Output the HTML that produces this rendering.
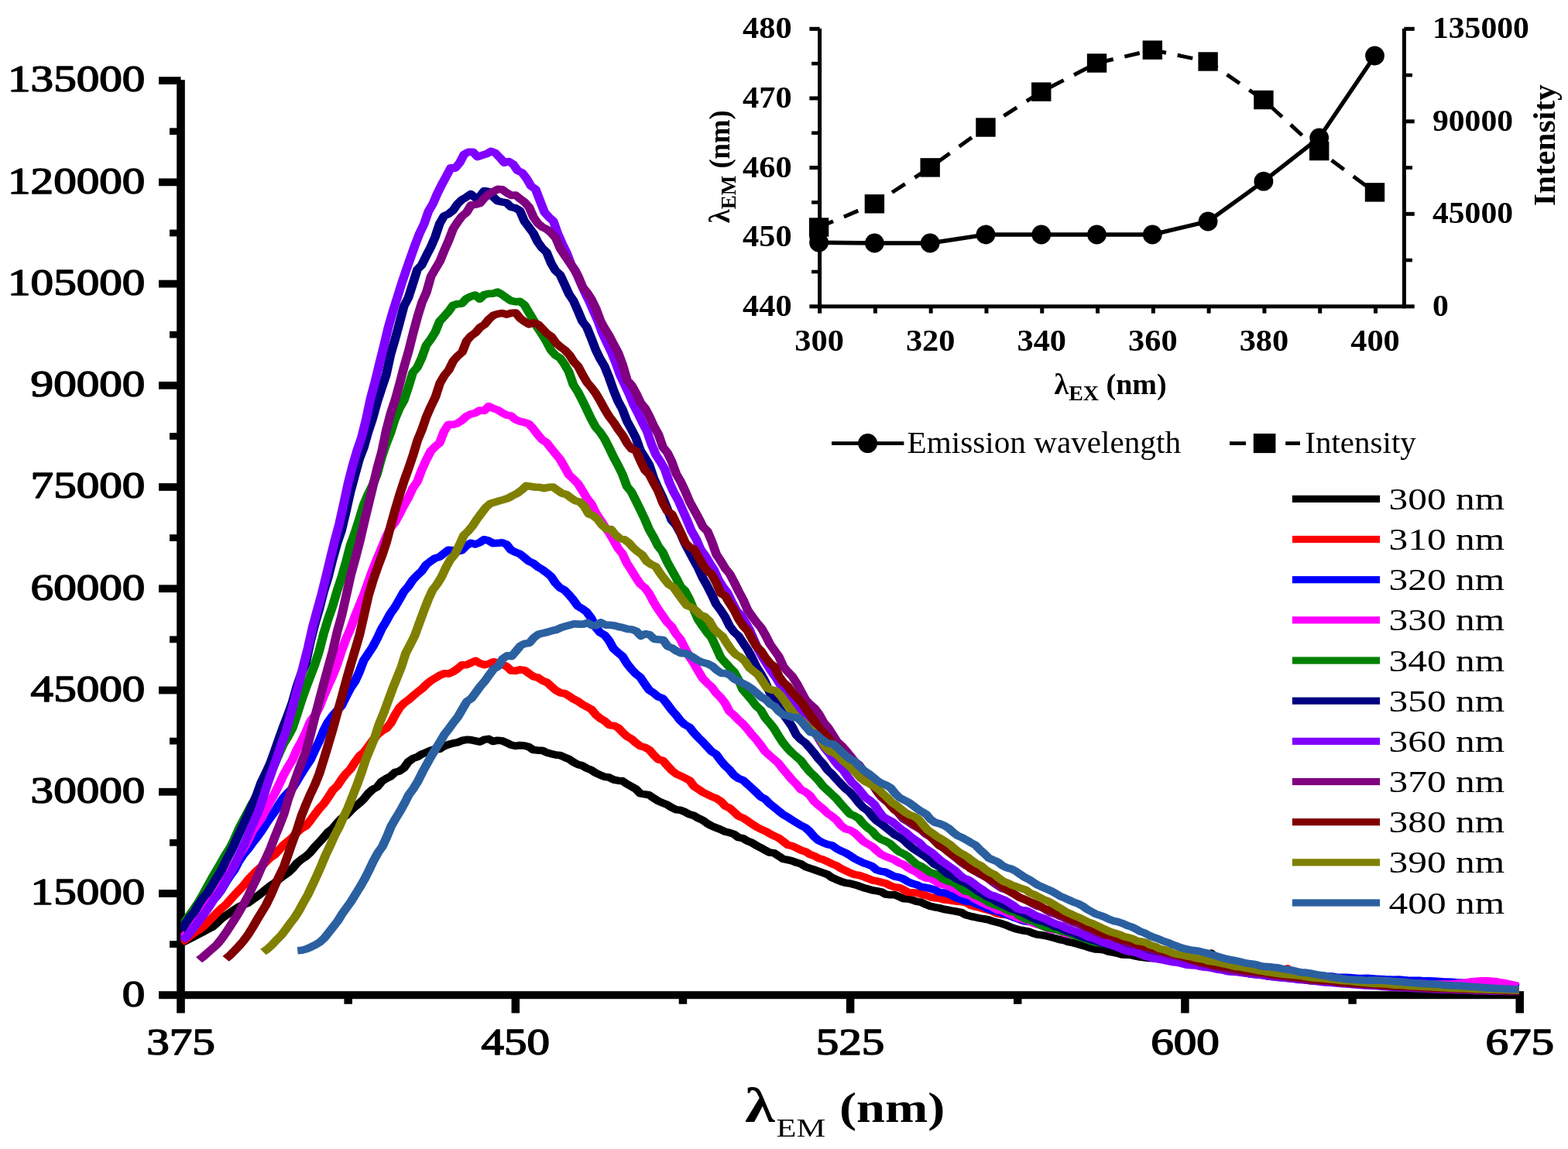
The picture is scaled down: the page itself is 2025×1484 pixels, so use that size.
<!DOCTYPE html>
<html lang="en">
<head>
<meta charset="utf-8">
<title>Emission spectra at different excitation wavelengths</title>
<style>
html,body{margin:0;padding:0;background:#ffffff;}
body{width:2025px;height:1484px;overflow:hidden;}
svg{display:block;}
text{font-family:'Liberation Serif', 'DejaVu Serif', serif;}
</style>
</head>
<body>
<svg xmlns="http://www.w3.org/2000/svg" width="2025" height="1484" viewBox="0 0 2025 1484" font-family="'Liberation Serif', 'DejaVu Serif', serif" fill="#000">
<rect width="2025" height="1484" fill="#fff"/>
<g id="main-axes">
<rect x="228.20" y="103.20" width="10.60" height="1205.30" fill="#000"/>
<rect x="205.00" y="1280.20" width="1763.00" height="10.00" fill="#000"/>
<rect x="205.00" y="1149.07" width="28.50" height="9.80" fill="#000"/>
<rect x="205.00" y="1017.83" width="28.50" height="9.80" fill="#000"/>
<rect x="205.00" y="886.60" width="28.50" height="9.80" fill="#000"/>
<rect x="205.00" y="755.37" width="28.50" height="9.80" fill="#000"/>
<rect x="205.00" y="624.13" width="28.50" height="9.80" fill="#000"/>
<rect x="205.00" y="492.90" width="28.50" height="9.80" fill="#000"/>
<rect x="205.00" y="361.67" width="28.50" height="9.80" fill="#000"/>
<rect x="205.00" y="230.43" width="28.50" height="9.80" fill="#000"/>
<rect x="205.00" y="99.20" width="28.50" height="9.80" fill="#000"/>
<rect x="219.00" y="1215.18" width="14.50" height="8.80" fill="#000"/>
<rect x="219.00" y="1083.95" width="14.50" height="8.80" fill="#000"/>
<rect x="219.00" y="952.72" width="14.50" height="8.80" fill="#000"/>
<rect x="219.00" y="821.48" width="14.50" height="8.80" fill="#000"/>
<rect x="219.00" y="690.25" width="14.50" height="8.80" fill="#000"/>
<rect x="219.00" y="559.02" width="14.50" height="8.80" fill="#000"/>
<rect x="219.00" y="427.78" width="14.50" height="8.80" fill="#000"/>
<rect x="219.00" y="296.55" width="14.50" height="8.80" fill="#000"/>
<rect x="219.00" y="165.32" width="14.50" height="8.80" fill="#000"/>
<rect x="660.55" y="1285.20" width="10.50" height="23.30" fill="#000"/>
<rect x="1092.85" y="1285.20" width="10.50" height="23.30" fill="#000"/>
<rect x="1525.15" y="1285.20" width="10.50" height="23.30" fill="#000"/>
<rect x="1957.45" y="1285.20" width="10.50" height="23.30" fill="#000"/>
<rect x="444.40" y="1285.20" width="10.50" height="11.60" fill="#000"/>
<rect x="876.70" y="1285.20" width="10.50" height="11.60" fill="#000"/>
<rect x="1309.00" y="1285.20" width="10.50" height="11.60" fill="#000"/>
<rect x="1741.30" y="1285.20" width="10.50" height="11.60" fill="#000"/>
</g>
<g id="main-ticklabels">
<text transform="translate(187.20,1299.50) scale(1.23,1)" font-size="48" font-weight="normal" text-anchor="end" stroke="#000" stroke-width="1.5" stroke-linejoin="round">0</text>
<text transform="translate(187.20,1168.27) scale(1.23,1)" font-size="48" font-weight="normal" text-anchor="end" stroke="#000" stroke-width="1.5" stroke-linejoin="round">15000</text>
<text transform="translate(187.20,1037.03) scale(1.23,1)" font-size="48" font-weight="normal" text-anchor="end" stroke="#000" stroke-width="1.5" stroke-linejoin="round">30000</text>
<text transform="translate(187.20,905.80) scale(1.23,1)" font-size="48" font-weight="normal" text-anchor="end" stroke="#000" stroke-width="1.5" stroke-linejoin="round">45000</text>
<text transform="translate(187.20,774.57) scale(1.23,1)" font-size="48" font-weight="normal" text-anchor="end" stroke="#000" stroke-width="1.5" stroke-linejoin="round">60000</text>
<text transform="translate(187.20,643.33) scale(1.23,1)" font-size="48" font-weight="normal" text-anchor="end" stroke="#000" stroke-width="1.5" stroke-linejoin="round">75000</text>
<text transform="translate(187.20,512.10) scale(1.23,1)" font-size="48" font-weight="normal" text-anchor="end" stroke="#000" stroke-width="1.5" stroke-linejoin="round">90000</text>
<text transform="translate(187.20,380.87) scale(1.23,1)" font-size="48" font-weight="normal" text-anchor="end" stroke="#000" stroke-width="1.5" stroke-linejoin="round">105000</text>
<text transform="translate(187.20,249.63) scale(1.23,1)" font-size="48" font-weight="normal" text-anchor="end" stroke="#000" stroke-width="1.5" stroke-linejoin="round">120000</text>
<text transform="translate(187.20,118.40) scale(1.23,1)" font-size="48" font-weight="normal" text-anchor="end" stroke="#000" stroke-width="1.5" stroke-linejoin="round">135000</text>
<text transform="translate(233.50,1362.00) scale(1.23,1)" font-size="48" font-weight="normal" text-anchor="middle" stroke="#000" stroke-width="1.5" stroke-linejoin="round">375</text>
<text transform="translate(665.80,1362.00) scale(1.23,1)" font-size="48" font-weight="normal" text-anchor="middle" stroke="#000" stroke-width="1.5" stroke-linejoin="round">450</text>
<text transform="translate(1098.10,1362.00) scale(1.23,1)" font-size="48" font-weight="normal" text-anchor="middle" stroke="#000" stroke-width="1.5" stroke-linejoin="round">525</text>
<text transform="translate(1530.40,1362.00) scale(1.23,1)" font-size="48" font-weight="normal" text-anchor="middle" stroke="#000" stroke-width="1.5" stroke-linejoin="round">600</text>
<text transform="translate(1962.70,1362.00) scale(1.23,1)" font-size="48" font-weight="normal" text-anchor="middle" stroke="#000" stroke-width="1.5" stroke-linejoin="round">675</text>
</g>
<g id="main-xtitle">
<text transform="translate(962,1448.5) scale(1.23,1)" font-weight="bold" font-size="54"><tspan font-size="64">λ</tspan><tspan font-size="34.5" font-weight="normal" dy="19" dx="1.5">EM</tspan><tspan dy="-19" dx="1"> (nm)</tspan></text>
</g>
<clipPath id="plotclip"><rect x="233.5" y="0" width="1800" height="1484"/></clipPath>
<g id="curves" clip-path="url(#plotclip)">
<g fill="none" stroke-width="9.6" stroke-linejoin="round" stroke-linecap="butt" transform="scale(1.23,1)">
<polyline stroke="#000000" points="189.9,1218.2 194.6,1215.3 199.3,1212.5 204.0,1209.4 208.7,1206.5 213.4,1203.4 218.0,1200.3 222.7,1197.5 227.4,1192.4 232.1,1186.8 236.8,1182.7 241.4,1178.9 246.1,1175.1 250.8,1171.2 255.5,1168.5 260.2,1166.4 264.9,1162.2 269.5,1158.3 274.2,1153.7 278.9,1149.0 283.6,1144.3 288.3,1140.4 293.0,1135.6 297.6,1131.3 302.3,1127.2 307.0,1121.9 311.7,1114.8 316.4,1110.0 321.1,1106.2 325.7,1101.1 330.4,1094.0 335.1,1087.9 339.8,1081.6 344.5,1074.8 349.2,1070.2 353.8,1063.4 358.5,1057.3 363.2,1053.4 367.9,1047.5 372.6,1042.0 377.3,1037.4 381.9,1032.0 386.6,1024.8 391.3,1019.5 396.0,1016.5 400.7,1009.3 405.4,1005.7 410.0,1002.9 414.7,997.6 419.4,995.9 424.1,991.9 428.8,983.9 433.4,979.7 438.1,977.7 442.8,974.0 447.5,971.8 452.2,969.3 456.9,967.6 461.5,967.4 466.2,963.8 470.9,961.6 475.6,960.0 480.3,958.9 485.0,956.5 489.6,955.3 494.3,955.6 499.0,956.9 503.7,958.1 508.4,955.3 513.1,954.4 517.7,957.5 522.4,956.2 527.1,956.7 531.8,959.2 536.5,962.1 541.2,963.4 545.8,962.6 550.5,963.0 555.2,964.6 559.9,968.5 564.6,969.1 569.3,969.3 573.9,971.9 578.6,973.6 583.3,974.9 588.0,975.6 592.7,978.1 597.4,980.4 602.0,984.2 606.7,987.4 611.4,988.9 616.1,992.2 620.8,994.6 625.4,998.3 630.1,1000.9 634.8,1003.3 639.5,1004.1 644.2,1007.0 648.9,1008.2 653.5,1008.6 658.2,1012.6 662.9,1015.7 667.6,1019.0 672.3,1024.9 677.0,1025.9 681.6,1026.8 686.3,1030.8 691.0,1034.6 695.7,1037.0 700.4,1039.3 705.1,1042.9 709.7,1045.7 714.4,1046.3 719.1,1048.6 723.8,1051.8 728.5,1053.4 733.2,1056.8 737.8,1059.4 742.5,1063.5 747.2,1066.8 751.9,1069.1 756.6,1071.3 761.3,1074.1 765.9,1075.3 770.6,1077.3 775.3,1081.6 780.0,1082.6 784.7,1086.2 789.4,1088.4 794.0,1091.9 798.7,1094.8 803.4,1098.1 808.1,1101.1 812.8,1101.7 817.4,1105.4 822.1,1109.4 826.8,1110.5 831.5,1111.8 836.2,1114.1 840.9,1115.8 845.5,1119.3 850.2,1121.4 854.9,1123.3 859.6,1125.3 864.3,1127.4 869.0,1129.5 873.6,1133.6 878.3,1136.1 883.0,1138.4 887.7,1140.2 892.4,1141.0 897.1,1142.6 901.7,1144.3 906.4,1146.4 911.1,1148.1 915.8,1149.7 920.5,1150.6 925.2,1151.8 929.8,1155.0 934.5,1155.7 939.2,1155.6 943.9,1157.8 948.6,1160.7 953.3,1161.0 957.9,1162.3 962.6,1164.4 967.3,1165.3 972.0,1168.2 976.7,1170.4 981.4,1171.7 986.0,1172.6 990.7,1174.2 995.4,1175.2 1000.1,1176.3 1004.8,1177.3 1009.4,1178.5 1014.1,1181.7 1018.8,1183.3 1023.5,1184.5 1028.2,1185.9 1032.9,1186.8 1037.5,1187.8 1042.2,1189.7 1046.9,1191.2 1051.6,1192.8 1056.3,1194.8 1061.0,1197.4 1065.6,1199.4 1070.3,1200.8 1075.0,1202.0 1079.7,1202.9 1084.4,1205.2 1089.1,1207.1 1093.7,1207.7 1098.4,1208.8 1103.1,1210.3 1107.8,1211.8 1112.5,1213.5 1117.2,1214.5 1121.8,1216.6 1126.5,1217.6 1131.2,1219.2 1135.9,1221.0 1140.6,1222.5 1145.3,1224.5 1149.9,1226.0 1154.6,1226.3 1159.3,1226.9 1164.0,1229.0 1168.7,1230.2 1173.4,1231.3 1178.0,1232.9 1182.7,1233.3 1187.4,1233.4 1192.1,1234.9 1196.8,1236.1 1201.4,1236.7 1206.1,1237.4 1210.8,1237.8 1215.5,1238.1 1220.2,1239.0 1224.9,1239.7 1229.5,1239.9 1234.2,1241.1 1238.9,1242.0 1243.6,1242.7 1248.3,1243.1 1253.0,1243.6 1257.6,1243.1 1262.3,1238.6 1267.0,1233.0 1271.7,1231.1 1276.4,1237.4 1281.1,1245.1 1285.7,1249.8 1290.4,1250.3 1295.1,1251.1 1299.8,1252.0 1304.5,1252.6 1309.2,1253.0 1313.8,1253.8 1318.5,1255.1 1323.2,1255.8 1327.9,1256.5 1332.6,1257.1 1337.3,1258.1 1341.9,1258.7 1346.6,1258.7 1351.3,1259.4 1356.0,1260.0 1360.7,1260.2 1365.4,1261.2 1370.0,1262.6 1374.7,1263.2 1379.4,1263.4 1384.1,1263.9 1388.8,1264.9 1393.4,1265.6 1398.1,1266.1 1402.8,1266.7 1407.5,1267.3 1412.2,1268.0 1416.9,1268.6 1421.5,1269.0 1426.2,1269.2 1430.9,1269.7 1435.6,1270.0 1440.3,1270.6 1445.0,1270.8 1449.6,1271.1 1454.3,1271.6 1459.0,1271.7 1463.7,1272.4 1468.4,1273.0 1473.1,1273.0 1477.7,1273.3 1482.4,1273.7 1487.1,1273.6 1491.8,1274.0 1496.5,1274.5 1501.2,1274.8 1505.8,1275.0 1510.5,1275.3 1515.2,1275.7 1519.9,1276.1 1524.6,1276.4 1529.3,1276.6 1533.9,1277.0 1538.6,1277.1 1543.3,1277.3 1548.0,1277.4 1552.7,1277.9 1557.4,1278.3 1562.0,1278.5 1566.7,1278.7 1571.4,1278.9 1576.1,1279.1 1580.8,1279.3 1585.4,1279.5 1590.1,1279.8 1594.0,1280.1"/>
<polyline stroke="#ff0000" points="190.2,1217.4 194.9,1213.2 199.6,1208.8 204.3,1204.4 209.0,1201.0 213.7,1196.4 218.3,1190.7 223.0,1185.0 227.7,1178.9 232.4,1173.4 237.1,1168.6 241.8,1162.2 246.4,1155.8 251.1,1149.7 255.8,1143.6 260.5,1136.2 265.2,1130.1 269.9,1124.2 274.5,1119.4 279.2,1113.2 283.9,1107.7 288.6,1103.8 293.3,1097.4 298.0,1090.9 302.6,1086.3 307.3,1081.4 312.0,1074.9 316.7,1070.0 321.4,1066.7 326.1,1059.4 330.7,1051.6 335.4,1044.1 340.1,1037.8 344.8,1029.5 349.5,1020.5 354.1,1015.2 358.8,1006.4 363.5,998.9 368.2,993.0 372.9,984.1 377.6,976.2 382.2,971.6 386.9,964.0 391.6,955.9 396.3,948.8 401.0,944.1 405.7,940.8 410.3,934.0 415.0,923.0 419.7,913.8 424.4,907.9 429.1,903.8 433.8,898.7 438.4,894.0 443.1,889.6 447.8,883.9 452.5,879.1 457.2,875.7 461.9,872.1 466.5,869.8 471.2,870.1 475.9,867.5 480.6,863.5 485.3,858.7 490.0,858.7 494.6,856.0 499.3,853.4 504.0,856.8 508.7,858.7 513.4,857.4 518.1,854.7 522.7,856.0 527.4,858.0 532.1,860.9 536.8,866.2 541.5,866.4 546.1,864.9 550.8,865.7 555.5,869.9 560.2,873.8 564.9,875.2 569.6,879.1 574.2,881.3 578.9,886.4 583.6,891.6 588.3,894.7 593.0,895.7 597.7,899.2 602.3,902.9 607.0,905.9 611.7,910.0 616.4,913.1 621.1,916.3 625.8,923.4 630.4,928.0 635.1,931.4 639.8,936.5 644.5,937.2 649.2,940.0 653.9,946.1 658.5,951.3 663.2,954.5 667.9,959.7 672.6,963.8 677.3,965.3 682.0,968.7 686.6,975.4 691.3,980.9 696.0,982.4 700.7,989.0 705.4,995.1 710.1,999.6 714.7,1002.2 719.4,1005.0 724.1,1008.1 728.8,1015.7 733.5,1019.4 738.1,1023.4 742.8,1026.1 747.5,1029.0 752.2,1031.2 756.9,1034.9 761.6,1041.1 766.2,1043.7 770.9,1048.9 775.6,1054.2 780.3,1056.6 785.0,1060.3 789.7,1064.3 794.3,1068.0 799.0,1071.0 803.7,1073.4 808.4,1076.9 813.1,1079.8 817.8,1082.4 822.4,1086.7 827.1,1091.3 831.8,1092.6 836.5,1095.3 841.2,1098.2 845.9,1100.0 850.5,1103.6 855.2,1105.6 859.9,1108.8 864.6,1110.4 869.3,1112.9 874.0,1116.0 878.6,1118.2 883.3,1121.9 888.0,1124.7 892.7,1127.4 897.4,1129.6 902.1,1130.5 906.7,1132.4 911.4,1134.6 916.1,1137.0 920.8,1137.9 925.5,1139.6 930.1,1140.9 934.8,1143.8 939.5,1145.8 944.2,1146.4 948.9,1149.2 953.6,1152.5 958.2,1152.8 962.9,1153.3 967.6,1155.2 972.3,1156.5 977.0,1158.7 981.7,1159.7 986.3,1160.2 991.0,1161.9 995.7,1162.4 1000.4,1163.5 1005.1,1164.2 1009.8,1164.7 1014.4,1165.7 1019.1,1169.3 1023.8,1171.1 1028.5,1172.2 1033.2,1173.9 1037.9,1175.6 1042.5,1177.3 1047.2,1180.1 1051.9,1181.0 1056.6,1181.4 1061.3,1183.3 1066.0,1185.0 1070.6,1187.5 1075.3,1189.6 1080.0,1190.1 1084.7,1190.7 1089.4,1192.7 1094.1,1195.6 1098.7,1195.8 1103.4,1197.8 1108.1,1199.9 1112.8,1202.1 1117.5,1203.5 1122.1,1204.9 1126.8,1206.2 1131.5,1207.8 1136.2,1210.7 1140.9,1212.8 1145.6,1213.6 1150.2,1214.6 1154.9,1215.6 1159.6,1217.4 1164.3,1219.3 1169.0,1220.7 1173.7,1222.0 1178.3,1222.9 1183.0,1224.3 1187.7,1225.9 1192.4,1227.6 1197.1,1229.4 1201.8,1230.0 1206.4,1230.5 1211.1,1231.8 1215.8,1232.9 1220.5,1233.9 1225.2,1235.3 1229.9,1236.2 1234.5,1237.7 1239.2,1238.9 1243.9,1239.9 1248.6,1241.0 1253.3,1241.8 1258.0,1242.7 1262.6,1243.9 1267.3,1245.0 1272.0,1246.2 1276.7,1247.3 1281.4,1247.8 1286.1,1249.0 1290.7,1249.8 1295.4,1250.6 1300.1,1251.7 1304.8,1252.1 1309.5,1253.2 1314.1,1254.3 1318.8,1255.0 1323.5,1255.7 1328.2,1256.4 1332.9,1257.0 1337.6,1257.6 1342.2,1256.3 1346.9,1252.7 1351.6,1250.9 1356.3,1255.1 1361.0,1260.1 1365.7,1261.9 1370.3,1262.5 1375.0,1263.2 1379.7,1263.5 1384.4,1264.1 1389.1,1264.9 1393.8,1265.3 1398.4,1265.8 1403.1,1266.1 1407.8,1266.5 1412.5,1267.1 1417.2,1267.6 1421.9,1268.0 1426.5,1268.1 1431.2,1268.7 1435.9,1269.5 1440.6,1270.0 1445.3,1270.3 1450.0,1270.4 1454.6,1271.0 1459.3,1271.5 1464.0,1271.5 1468.7,1272.1 1473.4,1272.6 1478.1,1272.8 1482.7,1273.3 1487.4,1274.0 1492.1,1274.3 1496.8,1274.5 1501.5,1275.1 1506.1,1275.4 1510.8,1275.5 1515.5,1275.6 1520.2,1275.8 1524.9,1276.0 1529.6,1276.4 1534.2,1276.7 1538.9,1276.9 1543.6,1277.2 1548.3,1277.3 1553.0,1277.5 1557.7,1277.8 1562.3,1278.1 1567.0,1278.3 1571.7,1278.4 1576.4,1278.5 1581.1,1278.6 1585.8,1278.7 1590.4,1278.7 1594.3,1278.9"/>
<polyline stroke="#0000ff" points="189.9,1214.5 194.6,1207.8 199.3,1200.5 204.0,1193.7 208.7,1186.7 213.3,1178.9 218.0,1170.3 222.7,1163.6 227.4,1157.7 232.1,1149.9 236.7,1140.4 241.4,1131.4 246.1,1123.5 250.8,1112.4 255.5,1103.8 260.2,1097.1 264.8,1089.1 269.5,1081.9 274.2,1073.9 278.9,1064.8 283.6,1056.2 288.3,1048.5 292.9,1039.0 297.6,1030.4 302.3,1023.9 307.0,1018.2 311.7,1008.9 316.4,999.2 321.0,990.4 325.7,981.7 330.4,969.3 335.1,957.5 339.8,943.7 344.5,932.4 349.1,924.6 353.8,918.2 358.5,911.6 363.2,899.9 367.9,888.9 372.6,880.5 377.2,868.0 381.9,852.9 386.6,844.2 391.3,835.5 396.0,824.6 400.7,812.2 405.3,802.8 410.0,792.3 414.7,784.3 419.4,774.3 424.1,764.0 428.7,757.6 433.4,749.0 438.1,743.0 442.8,737.6 447.5,729.4 452.2,724.9 456.8,721.0 461.5,719.3 466.2,714.8 470.9,710.2 475.6,710.7 480.3,712.2 484.9,710.8 489.6,705.0 494.3,701.3 499.0,703.0 503.7,700.7 508.4,696.8 513.0,698.4 517.7,701.7 522.4,701.4 527.1,700.7 531.8,703.0 536.5,710.3 541.1,713.1 545.8,715.3 550.5,720.0 555.2,724.8 559.9,727.5 564.6,732.2 569.2,735.4 573.9,739.7 578.6,744.5 583.3,753.1 588.0,759.1 592.7,762.1 597.3,768.0 602.0,774.8 606.7,782.9 611.4,786.2 616.1,790.6 620.7,798.3 625.4,810.1 630.1,817.0 634.8,820.2 639.5,827.4 644.2,837.7 648.8,842.8 653.5,847.5 658.2,856.8 662.9,864.1 667.6,870.2 672.3,874.8 676.9,883.3 681.6,891.2 686.3,895.0 691.0,899.8 695.7,901.9 700.4,909.1 705.0,916.7 709.7,923.3 714.4,930.8 719.1,935.9 723.8,939.1 728.5,946.4 733.1,952.5 737.8,958.1 742.5,964.4 747.2,970.6 751.9,974.1 756.6,982.1 761.2,988.8 765.9,994.1 770.6,1001.2 775.3,1005.4 780.0,1007.6 784.7,1012.7 789.3,1017.9 794.0,1023.2 798.7,1029.1 803.4,1032.1 808.1,1038.1 812.7,1042.4 817.4,1047.3 822.1,1051.9 826.8,1055.2 831.5,1059.0 836.2,1062.5 840.8,1066.0 845.5,1068.9 850.2,1073.9 854.9,1080.7 859.6,1085.7 864.3,1088.5 868.9,1090.6 873.6,1091.9 878.3,1095.9 883.0,1099.0 887.7,1101.5 892.4,1104.9 897.0,1108.7 901.7,1111.7 906.4,1114.5 911.1,1116.4 915.8,1118.8 920.5,1123.6 925.1,1125.4 929.8,1126.3 934.5,1129.1 939.2,1132.0 943.9,1133.0 948.6,1135.2 953.2,1138.8 957.9,1141.1 962.6,1142.7 967.3,1145.5 972.0,1146.3 976.7,1147.5 981.3,1149.2 986.0,1152.2 990.7,1152.9 995.4,1154.3 1000.1,1157.1 1004.7,1159.8 1009.4,1161.9 1014.1,1164.0 1018.8,1164.2 1023.5,1166.5 1028.2,1169.1 1032.8,1170.9 1037.5,1173.9 1042.2,1175.9 1046.9,1176.7 1051.6,1179.2 1056.3,1181.1 1060.9,1182.9 1065.6,1185.4 1070.3,1187.3 1075.0,1189.4 1079.7,1190.4 1084.4,1190.5 1089.0,1191.9 1093.7,1193.5 1098.4,1194.8 1103.1,1197.0 1107.8,1198.6 1112.5,1199.1 1117.1,1201.6 1121.8,1203.6 1126.5,1205.1 1131.2,1206.7 1135.9,1208.3 1140.6,1209.7 1145.2,1211.4 1149.9,1212.7 1154.6,1213.8 1159.3,1215.0 1164.0,1215.5 1168.7,1216.7 1173.3,1218.3 1178.0,1219.7 1182.7,1220.4 1187.4,1222.5 1192.1,1224.0 1196.7,1224.4 1201.4,1225.1 1206.1,1226.9 1210.8,1228.6 1215.5,1229.6 1220.2,1231.0 1224.8,1232.2 1229.5,1233.7 1234.2,1234.7 1238.9,1235.9 1243.6,1237.6 1248.3,1239.5 1252.9,1239.8 1257.6,1240.3 1262.3,1241.3 1267.0,1242.8 1271.7,1243.5 1276.4,1244.2 1281.0,1245.4 1285.7,1246.0 1290.4,1246.7 1295.1,1247.7 1299.8,1248.1 1304.5,1248.8 1309.1,1250.0 1313.8,1251.1 1318.5,1251.8 1323.2,1252.0 1327.9,1252.8 1332.6,1254.0 1337.2,1254.7 1341.9,1255.1 1346.6,1255.4 1351.3,1256.2 1356.0,1256.7 1360.7,1256.9 1365.3,1257.4 1370.0,1258.5 1374.7,1259.1 1379.4,1259.6 1384.1,1259.8 1388.7,1260.4 1393.4,1260.7 1398.1,1261.0 1402.8,1262.0 1407.5,1262.4 1412.2,1262.2 1416.8,1262.5 1421.5,1263.0 1426.2,1263.5 1430.9,1263.5 1435.6,1263.3 1440.3,1263.7 1444.9,1264.2 1449.6,1264.5 1454.3,1264.9 1459.0,1265.1 1463.7,1265.2 1468.4,1265.1 1473.0,1265.5 1477.7,1266.1 1482.4,1266.2 1487.1,1266.2 1491.8,1266.4 1496.5,1266.9 1501.1,1266.9 1505.8,1267.0 1510.5,1267.5 1515.2,1267.9 1519.9,1268.1 1524.6,1268.4 1529.2,1268.8 1533.9,1269.1 1538.6,1269.5 1543.3,1269.8 1548.0,1270.2 1552.7,1270.9 1557.3,1271.1 1562.0,1271.5 1566.7,1272.2 1571.4,1272.5 1576.1,1272.9 1580.7,1273.4 1585.4,1274.0 1590.1,1274.8 1594.8,1275.4"/>
<polyline stroke="#ff00ff" points="189.9,1213.7 194.6,1207.3 199.3,1200.4 204.0,1193.0 208.7,1185.8 213.3,1176.5 218.0,1168.8 222.7,1161.8 227.4,1155.0 232.1,1146.4 236.8,1135.4 241.4,1125.2 246.1,1115.7 250.8,1105.6 255.5,1096.2 260.2,1086.0 264.9,1073.7 269.5,1065.4 274.2,1057.3 278.9,1046.4 283.6,1035.2 288.3,1025.2 293.0,1013.4 297.6,1001.3 302.3,990.7 307.0,981.5 311.7,968.2 316.4,957.9 321.1,946.1 325.7,932.3 330.4,924.4 335.1,914.0 339.8,899.3 344.5,885.8 349.2,873.1 353.8,858.8 358.5,841.0 363.2,825.5 367.9,812.4 372.6,796.3 377.2,782.3 381.9,768.3 386.6,752.0 391.3,735.9 396.0,721.6 400.7,707.9 405.3,693.9 410.0,682.0 414.7,674.6 419.4,664.0 424.1,652.7 428.8,642.6 433.4,630.4 438.1,622.1 442.8,606.9 447.5,594.2 452.2,582.8 456.9,576.7 461.5,572.2 466.2,557.3 470.9,548.3 475.6,548.4 480.3,546.7 485.0,543.0 489.6,537.8 494.3,534.8 499.0,533.4 503.7,530.0 508.4,530.5 513.1,524.8 517.7,527.4 522.4,529.4 527.1,533.0 531.8,536.1 536.5,536.9 541.2,542.0 545.8,544.2 550.5,545.5 555.2,547.5 559.9,553.7 564.6,561.2 569.2,567.9 573.9,571.6 578.6,579.0 583.3,586.2 588.0,593.1 592.7,603.1 597.3,613.2 602.0,618.5 606.7,624.5 611.4,633.5 616.1,643.3 620.8,650.6 625.4,662.0 630.1,670.7 634.8,679.8 639.5,687.9 644.2,697.8 648.9,708.1 653.5,715.1 658.2,727.4 662.9,736.4 667.6,745.7 672.3,754.4 677.0,759.1 681.6,766.6 686.3,777.5 691.0,786.8 695.7,795.2 700.4,803.4 705.1,809.1 709.7,818.5 714.4,825.7 719.1,837.1 723.8,848.0 728.5,856.6 733.2,866.6 737.8,876.3 742.5,882.1 747.2,887.3 751.9,894.9 756.6,900.8 761.2,907.8 765.9,918.8 770.6,923.8 775.3,929.9 780.0,934.9 784.7,941.5 789.3,948.6 794.0,955.0 798.7,962.4 803.4,970.6 808.1,975.8 812.8,980.7 817.4,985.7 822.1,993.3 826.8,1000.0 831.5,1007.0 836.2,1012.8 840.9,1019.9 845.5,1022.6 850.2,1027.1 854.9,1035.1 859.6,1040.3 864.3,1044.9 869.0,1050.5 873.6,1054.3 878.3,1059.1 883.0,1066.2 887.7,1070.6 892.4,1072.0 897.1,1075.5 901.7,1080.7 906.4,1086.6 911.1,1090.1 915.8,1093.2 920.5,1098.7 925.2,1103.4 929.8,1106.1 934.5,1108.3 939.2,1110.8 943.9,1114.4 948.6,1116.5 953.2,1120.8 957.9,1124.0 962.6,1126.8 967.3,1131.1 972.0,1133.9 976.7,1134.4 981.3,1137.4 986.0,1141.3 990.7,1142.7 995.4,1144.2 1000.1,1147.4 1004.8,1149.4 1009.4,1153.5 1014.1,1155.1 1018.8,1157.0 1023.5,1160.9 1028.2,1164.0 1032.9,1166.8 1037.5,1169.5 1042.2,1171.8 1046.9,1175.0 1051.6,1176.1 1056.3,1178.6 1061.0,1181.3 1065.6,1183.8 1070.3,1186.2 1075.0,1187.6 1079.7,1189.3 1084.4,1192.1 1089.1,1194.2 1093.7,1195.3 1098.4,1198.1 1103.1,1200.9 1107.8,1200.8 1112.5,1202.1 1117.2,1205.3 1121.8,1206.7 1126.5,1207.4 1131.2,1208.5 1135.9,1209.7 1140.6,1211.2 1145.2,1212.5 1149.9,1214.3 1154.6,1215.5 1159.3,1216.4 1164.0,1217.3 1168.7,1218.9 1173.3,1220.1 1178.0,1221.4 1182.7,1223.3 1187.4,1224.7 1192.1,1225.8 1196.8,1227.1 1201.4,1228.2 1206.1,1229.4 1210.8,1230.5 1215.5,1232.1 1220.2,1233.0 1224.9,1234.6 1229.5,1235.9 1234.2,1236.6 1238.9,1237.7 1243.6,1238.9 1248.3,1240.3 1253.0,1241.3 1257.6,1242.8 1262.3,1243.7 1267.0,1243.9 1271.7,1245.0 1276.4,1245.9 1281.1,1247.2 1285.7,1248.8 1290.4,1249.8 1295.1,1250.1 1299.8,1250.8 1304.5,1252.4 1309.2,1253.3 1313.8,1253.8 1318.5,1254.8 1323.2,1256.0 1327.9,1256.7 1332.6,1256.9 1337.2,1257.5 1341.9,1258.2 1346.6,1258.7 1351.3,1259.0 1356.0,1259.8 1360.7,1260.4 1365.3,1261.0 1370.0,1261.8 1374.7,1262.8 1379.4,1263.0 1384.1,1263.3 1388.8,1263.9 1393.4,1264.5 1398.1,1265.2 1402.8,1265.4 1407.5,1265.6 1412.2,1265.8 1416.9,1266.2 1421.5,1266.9 1426.2,1267.3 1430.9,1267.4 1435.6,1267.7 1440.3,1268.1 1445.0,1268.5 1449.6,1268.7 1454.3,1268.9 1459.0,1268.9 1463.7,1269.0 1468.4,1269.7 1473.1,1269.6 1477.7,1269.6 1482.4,1269.9 1487.1,1270.0 1491.8,1270.1 1496.5,1270.5 1501.2,1270.8 1505.8,1270.9 1510.5,1270.8 1515.2,1270.9 1519.9,1271.1 1524.6,1270.8 1529.2,1270.3 1533.9,1269.7 1538.6,1269.0 1543.3,1268.1 1548.0,1267.5 1552.7,1267.1 1557.3,1266.7 1562.0,1266.9 1566.7,1267.2 1571.4,1267.8 1576.1,1269.0 1580.8,1269.8 1585.4,1271.1 1590.1,1272.4 1594.0,1273.4"/>
<polyline stroke="#008000" points="189.9,1198.4 194.6,1189.4 199.3,1181.5 204.0,1173.4 208.7,1164.8 213.3,1154.9 218.0,1144.5 222.7,1133.9 227.4,1124.2 232.1,1114.2 236.7,1104.3 241.4,1095.3 246.1,1083.7 250.8,1070.5 255.5,1059.5 260.2,1048.7 264.8,1037.8 269.5,1029.9 274.2,1019.7 278.9,1006.0 283.6,996.0 288.3,987.0 292.9,973.8 297.6,961.0 302.3,951.5 307.0,940.7 311.7,923.4 316.4,905.4 321.0,889.1 325.7,873.8 330.4,858.8 335.1,841.1 339.8,818.5 344.5,799.6 349.1,783.3 353.8,763.8 358.5,746.3 363.2,726.4 367.9,704.2 372.6,688.4 377.2,670.8 381.9,651.6 386.6,638.1 391.3,626.5 396.0,612.0 400.7,590.6 405.3,574.0 410.0,559.3 414.7,541.1 419.4,527.5 424.1,517.3 428.7,500.2 433.4,481.3 438.1,474.6 442.8,462.2 447.5,446.0 452.2,438.3 456.8,429.4 461.5,415.2 466.2,408.9 470.9,402.4 475.6,394.5 480.3,392.5 484.9,392.2 489.6,385.9 494.3,382.9 499.0,381.0 503.7,386.2 508.4,380.7 513.0,379.3 517.7,379.2 522.4,377.1 527.1,380.5 531.8,384.6 536.5,388.5 541.1,389.7 545.8,389.4 550.5,393.5 555.2,403.3 559.9,412.8 564.6,423.5 569.2,431.8 573.9,441.3 578.6,452.5 583.3,458.8 588.0,462.3 592.7,470.4 597.3,480.3 602.0,497.1 606.7,505.9 611.4,517.1 616.1,529.1 620.7,541.0 625.4,551.5 630.1,558.2 634.8,566.8 639.5,578.2 644.2,590.3 648.8,600.7 653.5,612.5 658.2,628.2 662.9,635.2 667.6,646.6 672.3,658.5 676.9,670.2 681.6,683.9 686.3,693.9 691.0,705.4 695.7,712.8 700.4,725.5 705.0,735.7 709.7,745.9 714.4,757.2 719.1,762.9 723.8,773.7 728.5,787.5 733.1,800.3 737.8,808.9 742.5,816.9 747.2,823.7 751.9,836.1 756.6,849.0 761.2,855.4 765.9,861.7 770.6,867.5 775.3,877.8 780.0,890.8 784.7,897.5 789.3,904.2 794.0,911.7 798.7,916.9 803.4,926.9 808.1,933.7 812.7,940.9 817.4,950.4 822.1,959.2 826.8,966.2 831.5,972.3 836.2,977.2 840.8,982.1 845.5,989.9 850.2,996.8 854.9,1002.2 859.6,1008.4 864.3,1015.6 868.9,1020.8 873.6,1026.1 878.3,1031.6 883.0,1038.5 887.7,1044.9 892.4,1051.4 897.0,1053.6 901.7,1057.0 906.4,1064.1 911.1,1069.2 915.8,1073.5 920.5,1080.2 925.1,1084.1 929.8,1086.3 934.5,1089.7 939.2,1095.1 943.9,1100.0 948.6,1102.6 953.2,1106.1 957.9,1111.6 962.6,1116.3 967.3,1119.0 972.0,1122.9 976.7,1126.9 981.3,1128.3 986.0,1131.3 990.7,1135.6 995.4,1138.1 1000.1,1139.3 1004.7,1142.8 1009.4,1147.3 1014.1,1151.2 1018.8,1151.8 1023.5,1156.2 1028.2,1158.6 1032.8,1161.1 1037.5,1165.0 1042.2,1167.7 1046.9,1169.8 1051.6,1171.4 1056.3,1174.7 1060.9,1177.2 1065.6,1178.0 1070.3,1182.8 1075.0,1185.9 1079.7,1188.0 1084.4,1189.3 1089.0,1192.1 1093.7,1195.5 1098.4,1197.9 1103.1,1199.3 1107.8,1200.2 1112.5,1202.2 1117.1,1203.4 1121.8,1204.8 1126.5,1207.6 1131.2,1209.4 1135.9,1211.2 1140.6,1213.1 1145.2,1215.6 1149.9,1217.3 1154.6,1217.9 1159.3,1219.3 1164.0,1220.1 1168.7,1220.9 1173.3,1222.8 1178.0,1223.5 1182.7,1224.5 1187.4,1225.6 1192.1,1227.2 1196.7,1229.5 1201.4,1230.2 1206.1,1231.3 1210.8,1232.4 1215.5,1233.3 1220.2,1234.5 1224.8,1236.6 1229.5,1238.7 1234.2,1239.5 1238.9,1239.9 1243.6,1241.2 1248.3,1242.4 1252.9,1243.6 1257.6,1244.8 1262.3,1245.8 1267.0,1246.9 1271.7,1247.7 1276.4,1248.5 1281.0,1249.2 1285.7,1250.3 1290.4,1251.2 1295.1,1252.4 1299.8,1253.3 1304.5,1254.4 1309.1,1255.5 1313.8,1256.0 1318.5,1256.8 1323.2,1257.7 1327.9,1258.8 1332.6,1260.1 1337.2,1260.8 1341.9,1261.1 1346.6,1262.0 1351.3,1262.3 1356.0,1263.2 1360.7,1263.8 1365.3,1263.8 1370.0,1265.2 1374.7,1266.2 1379.4,1266.2 1384.1,1266.7 1388.7,1267.4 1393.4,1267.9 1398.1,1268.2 1402.8,1268.7 1407.5,1269.5 1412.2,1270.0 1416.8,1270.6 1421.5,1271.0 1426.2,1271.7 1430.9,1271.9 1435.6,1272.1 1440.3,1272.3 1444.9,1272.6 1449.6,1273.4 1454.3,1273.7 1459.0,1274.1 1463.7,1274.5 1468.4,1274.7 1473.0,1275.0 1477.7,1275.4 1482.4,1275.7 1487.1,1276.1 1491.8,1276.5 1496.5,1276.6 1501.1,1276.7 1505.8,1277.0 1510.5,1277.3 1515.2,1277.6 1519.9,1278.0 1524.6,1278.1 1529.2,1278.2 1533.9,1278.3 1538.6,1278.4 1543.3,1278.5 1548.0,1278.7 1552.7,1278.9 1557.3,1279.1 1562.0,1279.3 1566.7,1279.4 1571.4,1279.5 1576.1,1279.6 1580.7,1279.8 1585.4,1280.0 1590.1,1280.1 1594.8,1280.1"/>
<polyline stroke="#000080" points="190.0,1201.8 194.6,1193.0 199.3,1184.8 204.0,1178.0 208.7,1167.8 213.4,1159.3 218.1,1152.7 222.7,1143.5 227.4,1133.9 232.1,1124.6 236.8,1113.0 241.5,1101.9 246.2,1090.0 250.8,1077.4 255.5,1065.1 260.2,1052.5 264.9,1039.6 269.6,1026.4 274.2,1010.6 278.9,998.9 283.6,986.3 288.3,970.4 293.0,953.8 297.7,937.8 302.3,923.2 307.0,907.1 311.7,886.5 316.4,869.9 321.1,856.4 325.8,829.4 330.4,806.8 335.1,787.2 339.8,764.3 344.5,745.7 349.2,722.6 353.9,702.0 358.5,685.4 363.2,661.1 367.9,635.2 372.6,613.8 377.3,592.7 382.0,577.7 386.6,557.7 391.3,540.3 396.0,519.2 400.7,501.6 405.4,484.5 410.1,457.8 414.7,438.7 419.4,417.3 424.1,395.5 428.8,384.4 433.5,366.2 438.2,348.1 442.8,342.2 447.5,330.5 452.2,319.3 456.9,306.1 461.6,288.8 466.2,279.0 470.9,276.4 475.6,271.8 480.3,263.5 485.0,257.9 489.7,254.6 494.3,250.6 499.0,255.5 503.7,253.9 508.4,246.6 513.1,247.4 517.8,254.3 522.4,259.5 527.1,260.8 531.8,261.9 536.5,267.4 541.2,268.6 545.9,272.1 550.5,285.5 555.2,293.3 559.9,300.9 564.6,312.6 569.3,320.4 574.0,325.9 578.6,339.8 583.3,349.6 588.0,354.7 592.7,367.0 597.4,379.9 602.1,388.3 606.7,401.1 611.4,414.9 616.1,422.6 620.8,436.8 625.5,451.9 630.2,463.7 634.8,473.2 639.5,487.6 644.2,504.0 648.9,518.3 653.6,528.8 658.2,543.7 662.9,554.2 667.6,565.3 672.3,581.6 677.0,590.8 681.7,600.4 686.3,617.3 691.0,630.3 695.7,642.2 700.4,656.6 705.1,671.6 709.8,678.2 714.4,688.5 719.1,701.7 723.8,712.5 728.5,723.4 733.2,733.9 737.9,746.5 742.5,756.5 747.2,767.9 751.9,780.2 756.6,788.0 761.3,796.8 766.0,808.5 770.6,816.1 775.3,821.3 780.0,830.0 784.7,838.5 789.4,849.0 794.1,861.2 798.7,870.0 803.4,880.5 808.1,894.0 812.8,903.5 817.5,913.2 822.2,922.0 826.8,929.9 831.5,938.2 836.2,949.3 840.9,955.2 845.6,959.5 850.2,965.9 854.9,972.8 859.6,980.4 864.3,986.6 869.0,994.6 873.7,1000.0 878.3,1006.4 883.0,1012.5 887.7,1018.5 892.4,1023.1 897.1,1029.6 901.8,1037.0 906.4,1043.1 911.1,1046.9 915.8,1054.2 920.5,1060.1 925.2,1064.0 929.9,1068.6 934.5,1073.1 939.2,1077.9 943.9,1081.0 948.6,1084.6 953.3,1090.3 958.0,1095.3 962.6,1099.1 967.3,1102.8 972.0,1106.6 976.7,1111.1 981.4,1116.5 986.1,1119.4 990.7,1124.3 995.4,1129.1 1000.1,1131.6 1004.8,1135.6 1009.5,1138.1 1014.2,1140.2 1018.8,1143.9 1023.5,1148.1 1028.2,1152.0 1032.9,1155.4 1037.6,1159.0 1042.2,1161.0 1046.9,1164.9 1051.6,1167.7 1056.3,1170.2 1061.0,1173.3 1065.7,1175.4 1070.3,1177.3 1075.0,1179.7 1079.7,1182.7 1084.4,1185.6 1089.1,1188.2 1093.8,1189.6 1098.4,1191.4 1103.1,1193.7 1107.8,1196.6 1112.5,1198.0 1117.2,1201.0 1121.9,1203.4 1126.5,1204.8 1131.2,1207.3 1135.9,1210.0 1140.6,1211.7 1145.3,1213.7 1150.0,1215.2 1154.6,1217.1 1159.3,1219.1 1164.0,1220.1 1168.7,1221.9 1173.4,1223.4 1178.1,1224.5 1182.7,1225.6 1187.4,1227.1 1192.1,1229.1 1196.8,1230.1 1201.5,1231.7 1206.2,1233.5 1210.8,1234.7 1215.5,1235.2 1220.2,1236.6 1224.9,1238.6 1229.6,1239.6 1234.2,1240.8 1238.9,1241.4 1243.6,1243.0 1248.3,1244.4 1253.0,1245.7 1257.7,1246.3 1262.3,1247.5 1267.0,1248.8 1271.7,1249.9 1276.4,1250.6 1281.1,1251.3 1285.8,1253.0 1290.4,1253.6 1295.1,1254.0 1299.8,1255.0 1304.5,1255.8 1309.2,1257.0 1313.9,1258.3 1318.5,1258.6 1323.2,1258.8 1327.9,1260.0 1332.6,1261.1 1337.3,1261.7 1342.0,1262.4 1346.6,1262.7 1351.3,1263.2 1356.0,1263.6 1360.7,1264.0 1365.4,1265.1 1370.1,1265.6 1374.7,1266.5 1379.4,1267.0 1384.1,1267.1 1388.8,1267.8 1393.5,1268.6 1398.2,1268.9 1402.8,1269.0 1407.5,1269.5 1412.2,1270.3 1416.9,1270.5 1421.6,1270.7 1426.2,1271.4 1430.9,1271.8 1435.6,1272.0 1440.3,1272.4 1445.0,1272.8 1449.7,1273.3 1454.3,1273.7 1459.0,1274.2 1463.7,1274.6 1468.4,1274.7 1473.1,1275.1 1477.8,1275.6 1482.4,1275.9 1487.1,1276.2 1491.8,1276.4 1496.5,1276.5 1501.2,1276.9 1505.9,1277.0 1510.5,1277.0 1515.2,1277.5 1519.9,1277.7 1524.6,1277.8 1529.3,1278.0 1534.0,1278.1 1538.6,1278.3 1543.3,1278.6 1548.0,1278.8 1552.7,1278.8 1557.4,1279.1 1562.1,1279.2 1566.7,1279.3 1571.4,1279.5 1576.1,1279.7 1580.8,1279.6 1585.5,1279.9 1590.2,1280.0 1594.0,1280.0"/>
<polyline stroke="#8000ff" points="192.3,1214.2 197.0,1208.3 201.7,1201.2 206.4,1194.0 211.1,1185.7 215.7,1178.1 220.4,1169.6 225.1,1160.5 229.8,1153.3 234.5,1143.8 239.2,1133.0 243.8,1123.9 248.5,1112.4 253.2,1098.4 257.9,1086.5 262.6,1072.3 267.3,1059.3 271.9,1046.3 276.6,1028.9 281.3,1010.9 286.0,994.7 290.7,978.6 295.4,961.1 300.0,945.6 304.7,924.6 309.4,903.0 314.1,881.8 318.8,858.5 323.5,835.9 328.1,810.6 332.8,789.4 337.5,768.5 342.2,745.2 346.9,721.2 351.6,697.6 356.2,676.7 360.9,650.7 365.6,623.7 370.3,601.2 375.0,581.6 379.7,564.8 384.3,542.2 389.0,515.0 393.7,493.6 398.4,469.8 403.1,446.7 407.7,422.8 412.4,402.8 417.1,384.4 421.8,365.9 426.5,348.8 431.2,332.4 435.8,316.4 440.5,301.5 445.2,289.5 449.9,272.9 454.6,263.0 459.3,249.6 463.9,238.2 468.6,227.6 473.3,216.9 478.0,217.1 482.7,210.1 487.4,199.2 492.0,196.2 496.7,196.3 501.4,202.6 506.1,200.6 510.8,198.8 515.5,195.4 520.1,197.6 524.8,203.6 529.5,210.3 534.2,208.5 538.9,212.3 543.6,220.5 548.2,222.9 552.9,230.5 557.6,240.3 562.3,244.3 567.0,259.3 571.7,274.1 576.3,280.4 581.0,285.5 585.7,302.0 590.4,315.0 595.1,326.7 599.7,341.6 604.4,350.1 609.1,363.9 613.8,377.0 618.5,388.7 623.2,401.8 627.8,414.7 632.5,430.3 637.2,442.9 641.9,454.8 646.6,468.9 651.3,484.8 655.9,496.9 660.6,509.0 665.3,522.9 670.0,534.2 674.7,546.1 679.4,557.2 684.0,573.7 688.7,587.4 693.4,596.2 698.1,606.2 702.8,623.4 707.5,636.0 712.1,645.9 716.8,659.2 721.5,672.2 726.2,686.2 730.9,696.0 735.6,709.4 740.2,717.2 744.9,726.9 749.6,735.7 754.3,748.6 759.0,757.8 763.7,765.3 768.3,776.9 773.0,788.1 777.7,794.2 782.4,803.2 787.1,813.5 791.7,826.6 796.4,839.6 801.1,849.8 805.8,859.0 810.5,868.1 815.2,876.1 819.8,885.5 824.5,896.0 829.2,899.9 833.9,907.3 838.6,916.8 843.3,926.1 847.9,933.3 852.6,941.4 857.3,949.1 862.0,958.7 866.7,967.4 871.4,974.4 876.0,982.4 880.7,989.6 885.4,994.8 890.1,1003.2 894.8,1010.9 899.5,1016.1 904.1,1022.9 908.8,1030.0 913.5,1034.0 918.2,1039.3 922.9,1048.2 927.6,1055.4 932.2,1058.3 936.9,1061.3 941.6,1066.2 946.3,1071.3 951.0,1074.9 955.7,1080.2 960.3,1084.4 965.0,1088.0 969.7,1094.1 974.4,1098.0 979.1,1101.8 983.7,1107.1 988.4,1112.1 993.1,1115.8 997.8,1120.0 1002.5,1123.9 1007.2,1129.6 1011.8,1134.1 1016.5,1136.1 1021.2,1139.9 1025.9,1144.5 1030.6,1148.2 1035.3,1152.4 1039.9,1155.8 1044.6,1157.4 1049.3,1159.8 1054.0,1162.0 1058.7,1165.3 1063.4,1168.8 1068.0,1173.2 1072.7,1175.5 1077.4,1176.0 1082.1,1178.7 1086.8,1182.2 1091.5,1184.1 1096.1,1186.2 1100.8,1188.9 1105.5,1191.7 1110.2,1194.0 1114.9,1195.8 1119.6,1198.7 1124.2,1201.0 1128.9,1202.9 1133.6,1204.9 1138.3,1207.2 1143.0,1210.4 1147.7,1211.9 1152.3,1214.0 1157.0,1216.8 1161.7,1218.6 1166.4,1220.5 1171.1,1222.2 1175.7,1224.8 1180.4,1227.4 1185.1,1228.9 1189.8,1229.7 1194.5,1231.0 1199.2,1233.5 1203.8,1235.7 1208.5,1236.9 1213.2,1238.4 1217.9,1239.4 1222.6,1240.4 1227.3,1241.7 1231.9,1242.8 1236.6,1243.3 1241.3,1244.6 1246.0,1246.2 1250.7,1246.6 1255.4,1247.0 1260.0,1248.3 1264.7,1249.3 1269.4,1249.6 1274.1,1251.0 1278.8,1252.3 1283.5,1253.0 1288.1,1254.4 1292.8,1255.2 1297.5,1255.4 1302.2,1256.3 1306.9,1256.9 1311.6,1257.5 1316.2,1258.5 1320.9,1259.2 1325.6,1259.7 1330.3,1260.9 1335.0,1261.6 1339.7,1262.1 1344.3,1262.7 1349.0,1263.3 1353.7,1264.1 1358.4,1264.6 1363.1,1265.4 1367.7,1265.8 1372.4,1266.2 1377.1,1266.7 1381.8,1267.4 1386.5,1268.2 1391.2,1269.0 1395.8,1269.3 1400.5,1269.7 1405.2,1270.2 1409.9,1270.6 1414.6,1271.0 1419.3,1271.6 1423.9,1271.9 1428.6,1272.4 1433.3,1272.9 1438.0,1273.2 1442.7,1273.5 1447.4,1273.8 1452.0,1274.5 1456.7,1274.7 1461.4,1275.1 1466.1,1275.5 1470.8,1275.7 1475.5,1275.8 1480.1,1276.3 1484.8,1276.8 1489.5,1276.8 1494.2,1276.9 1498.9,1277.3 1503.6,1277.6 1508.2,1277.9 1512.9,1278.0 1517.6,1278.1 1522.3,1278.2 1527.0,1278.6 1531.7,1278.7 1536.3,1278.6 1541.0,1278.9 1545.7,1279.2 1550.4,1279.5 1555.1,1279.6 1559.7,1279.7 1564.4,1279.9 1569.1,1280.1 1573.8,1280.1 1578.5,1280.2 1583.2,1280.4 1587.8,1280.4 1592.5,1280.4 1594.8,1280.5"/>
<polyline stroke="#800080" points="209.0,1239.8 213.6,1235.5 218.3,1230.2 223.0,1225.3 227.7,1220.1 232.4,1213.0 237.1,1204.9 241.7,1196.3 246.4,1187.2 251.1,1177.8 255.8,1167.7 260.5,1157.4 265.1,1145.5 269.8,1133.7 274.5,1120.4 279.2,1108.5 283.9,1095.8 288.6,1080.7 293.2,1066.9 297.9,1052.1 302.6,1032.2 307.3,1016.4 312.0,1000.0 316.7,984.4 321.3,970.5 326.0,948.8 330.7,925.8 335.4,903.7 340.1,881.9 344.8,861.0 349.4,840.5 354.1,815.8 358.8,795.0 363.5,769.4 368.2,743.3 372.9,722.3 377.5,700.6 382.2,675.5 386.9,651.5 391.6,627.8 396.3,603.6 401.0,582.7 405.6,555.5 410.3,533.6 415.0,516.1 419.7,495.4 424.4,473.0 429.1,453.1 433.7,430.6 438.4,409.2 443.1,390.4 447.8,377.5 452.5,357.0 457.1,347.3 461.8,337.7 466.5,323.6 471.2,310.3 475.9,295.2 480.6,286.6 485.2,279.1 489.9,274.3 494.6,264.8 499.3,264.3 504.0,262.5 508.7,255.6 513.3,250.7 518.0,247.3 522.7,244.4 527.4,244.8 532.1,249.0 536.8,252.4 541.4,252.0 546.1,256.8 550.8,261.1 555.5,267.5 560.2,280.6 564.9,288.7 569.5,293.4 574.2,296.1 578.9,301.0 583.6,307.5 588.3,321.2 593.0,329.9 597.6,338.2 602.3,346.8 607.0,356.6 611.7,370.7 616.4,377.8 621.1,386.7 625.7,398.4 630.4,414.1 635.1,424.7 639.8,434.0 644.5,445.1 649.1,455.7 653.8,471.4 658.5,491.1 663.2,497.5 667.9,507.9 672.6,520.3 677.2,527.0 681.9,538.0 686.6,550.6 691.3,560.9 696.0,577.5 700.7,584.6 705.3,596.3 710.0,611.9 714.7,622.1 719.4,634.2 724.1,648.0 728.8,658.5 733.4,668.8 738.1,680.4 742.8,686.1 747.5,699.8 752.2,716.1 756.9,724.8 761.5,734.2 766.2,741.1 770.9,752.1 775.6,763.9 780.3,774.6 785.0,787.8 789.6,795.8 794.3,803.7 799.0,810.4 803.7,820.4 808.4,831.9 813.1,839.9 817.7,847.9 822.4,860.7 827.1,867.6 831.8,873.5 836.5,882.4 841.1,893.2 845.8,903.8 850.5,909.7 855.2,914.5 859.9,922.2 864.6,932.7 869.2,939.2 873.9,948.2 878.6,957.5 883.3,962.7 888.0,969.1 892.7,976.1 897.3,983.5 902.0,987.8 906.7,996.5 911.4,1005.6 916.1,1013.1 920.8,1022.1 925.4,1029.4 930.1,1034.4 934.8,1038.6 939.5,1043.9 944.2,1051.5 948.9,1058.1 953.5,1061.4 958.2,1065.4 962.9,1068.5 967.6,1072.3 972.3,1077.4 977.0,1081.0 981.6,1084.9 986.3,1090.7 991.0,1095.7 995.7,1099.4 1000.4,1104.8 1005.1,1109.4 1009.7,1114.2 1014.4,1118.0 1019.1,1121.1 1023.8,1125.0 1028.5,1128.6 1033.1,1131.5 1037.8,1135.0 1042.5,1139.5 1047.2,1143.5 1051.9,1147.4 1056.6,1149.1 1061.2,1151.9 1065.9,1155.6 1070.6,1159.0 1075.3,1161.6 1080.0,1164.1 1084.7,1167.6 1089.3,1170.4 1094.0,1172.0 1098.7,1175.6 1103.4,1179.0 1108.1,1180.6 1112.8,1183.5 1117.4,1185.8 1122.1,1188.9 1126.8,1191.5 1131.5,1193.3 1136.2,1195.9 1140.9,1198.4 1145.5,1201.2 1150.2,1203.9 1154.9,1206.2 1159.6,1208.1 1164.3,1208.5 1169.0,1211.1 1173.6,1213.0 1178.3,1215.0 1183.0,1217.6 1187.7,1219.3 1192.4,1220.5 1197.1,1222.2 1201.7,1224.0 1206.4,1225.5 1211.1,1227.0 1215.8,1228.5 1220.5,1230.8 1225.1,1232.4 1229.8,1233.9 1234.5,1235.0 1239.2,1236.3 1243.9,1237.8 1248.6,1239.6 1253.2,1241.6 1257.9,1243.3 1262.6,1244.6 1267.3,1245.9 1272.0,1247.9 1276.7,1249.0 1281.3,1249.7 1286.0,1251.2 1290.7,1252.4 1295.4,1253.2 1300.1,1253.7 1304.8,1255.2 1309.4,1256.0 1314.1,1256.6 1318.8,1257.3 1323.5,1257.7 1328.2,1258.4 1332.9,1259.5 1337.5,1260.5 1342.2,1261.1 1346.9,1261.5 1351.6,1262.1 1356.3,1262.9 1361.0,1263.5 1365.6,1264.5 1370.3,1265.4 1375.0,1266.4 1379.7,1266.8 1384.4,1266.9 1389.1,1267.2 1393.7,1267.3 1398.4,1268.1 1403.1,1268.9 1407.8,1269.7 1412.5,1270.2 1417.1,1270.6 1421.8,1271.0 1426.5,1271.5 1431.2,1272.0 1435.9,1272.2 1440.6,1272.4 1445.2,1272.8 1449.9,1273.5 1454.6,1274.1 1459.3,1274.3 1464.0,1274.4 1468.7,1274.8 1473.3,1275.2 1478.0,1275.5 1482.7,1275.8 1487.4,1276.1 1492.1,1276.4 1496.8,1276.7 1501.4,1276.9 1506.1,1277.1 1510.8,1277.3 1515.5,1277.5 1520.2,1277.8 1524.9,1277.9 1529.5,1278.1 1534.2,1278.3 1538.9,1278.3 1543.6,1278.7 1548.3,1278.8 1553.0,1279.0 1557.6,1279.2 1562.3,1279.2 1567.0,1279.3 1571.7,1279.5 1576.4,1279.6 1581.1,1279.6 1585.7,1279.9 1590.4,1279.9 1594.3,1280.0"/>
<polyline stroke="#800000" points="237.1,1238.3 241.8,1233.6 246.4,1227.8 251.1,1221.6 255.8,1215.0 260.5,1207.1 265.2,1197.9 269.9,1187.9 274.5,1178.6 279.2,1169.1 283.9,1157.3 288.6,1143.9 293.3,1131.3 298.0,1119.6 302.6,1103.5 307.3,1086.8 312.0,1071.3 316.7,1052.9 321.4,1038.5 326.1,1025.2 330.7,1013.3 335.4,998.8 340.1,980.2 344.8,961.1 349.5,941.6 354.2,920.5 358.8,900.5 363.5,878.9 368.2,858.6 372.9,839.4 377.6,819.5 382.2,794.6 386.9,769.2 391.6,750.0 396.3,733.3 401.0,717.9 405.7,700.6 410.3,678.8 415.0,657.9 419.7,638.5 424.4,620.7 429.1,604.7 433.8,587.5 438.4,568.6 443.1,554.6 447.8,537.8 452.5,524.7 457.2,512.8 461.9,494.9 466.5,485.2 471.2,478.0 475.9,466.2 480.6,459.7 485.3,454.8 490.0,440.2 494.6,433.8 499.3,429.7 504.0,422.9 508.7,419.3 513.4,412.3 518.1,407.3 522.7,405.4 527.4,404.5 532.1,406.1 536.8,404.2 541.5,404.1 546.2,411.2 550.8,415.4 555.5,418.8 560.2,416.8 564.9,418.8 569.6,424.7 574.2,430.6 578.9,434.7 583.6,442.6 588.3,447.9 593.0,452.0 597.7,458.1 602.3,466.8 607.0,473.2 611.7,484.2 616.4,494.0 621.1,500.8 625.8,508.6 630.4,518.2 635.1,528.9 639.8,538.3 644.5,545.8 649.2,554.8 653.9,562.5 658.5,572.6 663.2,580.0 667.9,582.3 672.6,595.7 677.3,607.5 682.0,613.3 686.6,624.3 691.3,634.7 696.0,649.8 700.7,660.2 705.4,663.9 710.1,676.1 714.7,687.7 719.4,700.7 724.1,706.8 728.8,709.1 733.5,719.9 738.2,729.9 742.8,737.3 747.5,742.3 752.2,753.1 756.9,766.6 761.6,769.8 766.2,779.3 770.9,788.3 775.6,799.8 780.3,808.5 785.0,814.5 789.7,825.3 794.3,834.8 799.0,840.6 803.7,849.4 808.4,856.5 813.1,861.0 817.8,873.3 822.4,881.2 827.1,886.1 831.8,894.8 836.5,900.5 841.2,906.4 845.9,915.2 850.5,923.4 855.2,931.5 859.9,940.4 864.6,946.0 869.3,952.5 874.0,959.8 878.6,963.8 883.3,969.9 888.0,975.1 892.7,981.9 897.4,988.0 902.1,992.4 906.7,996.7 911.4,1004.6 916.1,1012.5 920.8,1021.0 925.5,1028.1 930.2,1033.0 934.8,1040.1 939.5,1046.4 944.2,1049.8 948.9,1055.2 953.6,1059.2 958.2,1062.5 962.9,1067.3 967.6,1071.1 972.3,1075.3 977.0,1080.2 981.7,1086.5 986.3,1092.1 991.0,1095.1 995.7,1100.3 1000.4,1104.4 1005.1,1108.1 1009.8,1113.0 1014.4,1116.8 1019.1,1122.1 1023.8,1125.2 1028.5,1126.5 1033.2,1131.2 1037.9,1134.5 1042.5,1137.2 1047.2,1138.8 1051.9,1143.9 1056.6,1149.1 1061.3,1152.3 1066.0,1155.5 1070.6,1159.1 1075.3,1161.3 1080.0,1164.0 1084.7,1166.1 1089.4,1168.3 1094.1,1171.9 1098.7,1174.5 1103.4,1175.7 1108.1,1178.5 1112.8,1181.3 1117.5,1183.3 1122.2,1186.2 1126.8,1188.7 1131.5,1190.2 1136.2,1192.5 1140.9,1196.7 1145.6,1198.5 1150.2,1200.8 1154.9,1204.0 1159.6,1206.5 1164.3,1207.8 1169.0,1209.6 1173.7,1212.0 1178.3,1214.2 1183.0,1215.4 1187.7,1216.4 1192.4,1218.8 1197.1,1221.1 1201.8,1222.4 1206.4,1223.5 1211.1,1225.2 1215.8,1227.0 1220.5,1228.8 1225.2,1229.8 1229.9,1231.4 1234.5,1233.3 1239.2,1234.5 1243.9,1236.4 1248.6,1238.4 1253.3,1239.9 1258.0,1241.8 1262.6,1243.0 1267.3,1244.4 1272.0,1246.1 1276.7,1247.2 1281.4,1248.4 1286.1,1248.8 1290.7,1249.2 1295.4,1250.5 1300.1,1251.8 1304.8,1253.1 1309.5,1253.9 1314.2,1254.1 1318.8,1255.2 1323.5,1255.9 1328.2,1256.3 1332.9,1257.9 1337.6,1258.8 1342.2,1259.3 1346.9,1260.1 1351.6,1261.1 1356.3,1261.7 1361.0,1262.4 1365.7,1262.8 1370.3,1263.1 1375.0,1264.3 1379.7,1265.3 1384.4,1265.8 1389.1,1266.2 1393.8,1266.8 1398.4,1267.2 1403.1,1268.1 1407.8,1268.7 1412.5,1269.1 1417.2,1269.5 1421.9,1270.1 1426.5,1270.5 1431.2,1270.9 1435.9,1271.1 1440.6,1271.6 1445.3,1272.3 1450.0,1272.5 1454.6,1272.7 1459.3,1273.2 1464.0,1273.6 1468.7,1273.9 1473.4,1274.0 1478.1,1274.3 1482.7,1274.6 1487.4,1274.8 1492.1,1275.3 1496.8,1275.6 1501.5,1275.9 1506.2,1276.5 1510.8,1276.7 1515.5,1276.7 1520.2,1276.8 1524.9,1277.0 1529.6,1277.2 1534.2,1277.5 1538.9,1277.7 1543.6,1277.9 1548.3,1278.2 1553.0,1278.4 1557.7,1278.5 1562.3,1278.7 1567.0,1279.0 1571.7,1279.2 1576.4,1279.5 1581.1,1279.7 1585.8,1279.7 1590.4,1279.9 1594.8,1279.9"/>
<polyline stroke="#808000" points="276.3,1229.4 280.9,1225.7 285.6,1220.3 290.3,1214.1 295.0,1208.5 299.7,1200.9 304.4,1193.0 309.0,1185.7 313.7,1176.7 318.4,1166.0 323.1,1156.0 327.8,1143.7 332.5,1131.4 337.1,1118.6 341.8,1104.6 346.5,1092.6 351.2,1079.4 355.9,1068.6 360.6,1055.6 365.2,1043.8 369.9,1029.1 374.6,1014.6 379.3,998.7 384.0,981.0 388.7,967.0 393.3,953.3 398.0,935.3 402.7,921.3 407.4,905.7 412.1,889.8 416.7,875.8 421.4,861.4 426.1,843.3 430.8,832.3 435.5,820.9 440.2,804.9 444.8,789.6 449.5,774.7 454.2,762.0 458.9,754.5 463.6,745.1 468.3,732.8 472.9,722.6 477.6,716.0 482.3,704.1 487.0,691.3 491.7,685.9 496.4,678.8 501.0,670.2 505.7,662.6 510.4,655.0 515.1,650.2 519.8,648.5 524.5,646.7 529.1,645.2 533.8,643.3 538.5,640.0 543.2,637.1 547.9,632.8 552.6,627.4 557.2,628.3 561.9,629.3 566.6,629.3 571.3,630.6 576.0,629.3 580.7,629.0 585.3,633.1 590.0,637.2 594.7,638.6 599.4,643.0 604.1,646.7 608.7,648.2 613.4,653.9 618.1,663.8 622.8,665.9 627.5,670.8 632.2,678.3 636.8,683.4 641.5,683.6 646.2,690.8 650.9,695.4 655.6,696.8 660.3,701.1 664.9,707.5 669.6,712.5 674.3,716.7 679.0,725.0 683.7,729.0 688.4,731.6 693.0,740.2 697.7,748.0 702.4,755.0 707.1,758.4 711.8,766.6 716.5,774.5 721.1,782.1 725.8,784.0 730.5,788.3 735.2,794.1 739.9,796.4 744.6,801.7 749.2,811.6 753.9,817.3 758.6,821.9 763.3,831.1 768.0,839.4 772.7,845.6 777.3,848.7 782.0,853.8 786.7,862.3 791.4,867.1 796.1,871.6 800.7,880.0 805.4,888.6 810.1,891.0 814.8,892.1 819.5,898.3 824.2,906.1 828.8,913.9 833.5,921.9 838.2,927.5 842.9,931.9 847.6,938.3 852.3,943.3 856.9,949.2 861.6,955.0 866.3,964.4 871.0,970.4 875.7,972.4 880.4,976.4 885.0,982.5 889.7,987.1 894.4,992.6 899.1,998.5 903.8,1005.2 908.5,1009.4 913.1,1012.3 917.8,1015.6 922.5,1019.6 927.2,1025.4 931.9,1030.6 936.6,1036.6 941.2,1040.1 945.9,1044.9 950.6,1049.4 955.3,1052.6 960.0,1054.6 964.7,1058.4 969.3,1065.4 974.0,1072.0 978.7,1075.9 983.4,1080.1 988.1,1083.5 992.7,1086.9 997.4,1090.7 1002.1,1096.0 1006.8,1100.4 1011.5,1103.6 1016.2,1107.2 1020.8,1111.7 1025.5,1115.7 1030.2,1118.3 1034.9,1123.3 1039.6,1127.0 1044.3,1129.7 1048.9,1134.3 1053.6,1138.3 1058.3,1140.5 1063.0,1143.4 1067.7,1145.3 1072.4,1147.5 1077.0,1149.2 1081.7,1153.5 1086.4,1155.7 1091.1,1158.8 1095.8,1161.8 1100.5,1163.8 1105.1,1167.1 1109.8,1170.6 1114.5,1173.9 1119.2,1177.7 1123.9,1180.3 1128.6,1183.0 1133.2,1185.1 1137.9,1188.0 1142.6,1190.8 1147.3,1192.9 1152.0,1195.6 1156.7,1198.4 1161.3,1201.0 1166.0,1203.5 1170.7,1205.3 1175.4,1207.0 1180.1,1209.6 1184.7,1210.9 1189.4,1212.5 1194.1,1215.5 1198.8,1216.1 1203.5,1217.5 1208.2,1220.7 1212.8,1222.2 1217.5,1225.4 1222.2,1226.5 1226.9,1228.5 1231.6,1231.2 1236.3,1232.5 1240.9,1233.4 1245.6,1234.7 1250.3,1235.7 1255.0,1237.2 1259.7,1238.2 1264.4,1239.4 1269.0,1241.2 1273.7,1242.0 1278.4,1243.0 1283.1,1244.5 1287.8,1245.4 1292.5,1247.0 1297.1,1248.4 1301.8,1248.9 1306.5,1250.0 1311.2,1251.2 1315.9,1252.1 1320.6,1253.4 1325.2,1254.2 1329.9,1255.4 1334.6,1256.1 1339.3,1257.0 1344.0,1257.7 1348.7,1258.5 1353.3,1259.0 1358.0,1259.4 1362.7,1259.9 1367.4,1260.8 1372.1,1261.8 1376.7,1262.7 1381.4,1263.3 1386.1,1263.6 1390.8,1264.0 1395.5,1264.7 1400.2,1265.3 1404.8,1266.1 1409.5,1266.8 1414.2,1267.0 1418.9,1267.3 1423.6,1268.2 1428.3,1268.8 1432.9,1269.1 1437.6,1269.7 1442.3,1270.1 1447.0,1270.4 1451.7,1270.8 1456.4,1271.0 1461.0,1271.7 1465.7,1272.1 1470.4,1272.4 1475.1,1272.8 1479.8,1273.4 1484.5,1273.7 1489.1,1274.0 1493.8,1274.1 1498.5,1274.5 1503.2,1274.8 1507.9,1275.1 1512.6,1275.6 1517.2,1275.8 1521.9,1276.2 1526.6,1276.5 1531.3,1276.6 1536.0,1276.8 1540.7,1277.0 1545.3,1277.3 1550.0,1277.6 1554.7,1277.6 1559.4,1277.9 1564.1,1278.1 1568.7,1278.3 1573.4,1278.5 1578.1,1278.5 1582.8,1278.5 1587.5,1278.9 1592.2,1279.0 1595.0,1278.9"/>
<polyline stroke="#2b60a0" points="312.4,1227.7 317.0,1227.3 321.7,1225.7 326.4,1223.2 331.1,1220.3 335.8,1216.9 340.5,1211.6 345.1,1204.5 349.8,1197.2 354.5,1189.8 359.2,1180.4 363.9,1172.3 368.6,1164.4 373.2,1155.2 377.9,1145.9 382.6,1135.8 387.3,1124.5 392.0,1112.3 396.7,1101.7 401.3,1093.7 406.0,1081.3 410.7,1067.1 415.4,1057.1 420.1,1047.7 424.7,1037.5 429.4,1026.2 434.1,1018.4 438.8,1009.0 443.5,997.4 448.2,986.9 452.8,976.6 457.5,967.2 462.2,957.9 466.9,948.1 471.6,940.8 476.3,932.9 480.9,925.6 485.6,915.6 490.3,905.9 495.0,902.0 499.7,894.2 504.4,886.3 509.0,879.9 513.7,871.7 518.4,864.1 523.1,860.6 527.8,850.8 532.5,846.8 537.1,847.7 541.8,840.9 546.5,834.0 551.2,831.2 555.9,830.4 560.6,823.5 565.2,819.4 569.9,817.8 574.6,816.5 579.3,814.7 584.0,813.5 588.7,810.8 593.3,809.1 598.0,807.4 602.7,805.8 607.4,806.1 612.1,806.3 616.7,804.3 621.4,807.7 626.1,807.9 630.8,804.0 635.5,807.1 640.2,807.2 644.8,807.9 649.5,809.5 654.2,810.7 658.9,812.5 663.6,813.0 668.3,815.3 672.9,821.5 677.6,818.7 682.3,820.0 687.0,825.5 691.7,826.1 696.4,826.6 701.0,834.7 705.7,837.1 710.4,840.9 715.1,843.7 719.8,843.9 724.5,846.7 729.1,850.0 733.8,853.7 738.5,855.8 743.2,857.4 747.9,860.3 752.6,865.5 757.2,869.4 761.9,869.7 766.6,872.0 771.3,877.3 776.0,880.3 780.7,883.2 785.3,886.1 790.0,890.1 794.7,895.3 799.4,900.4 804.1,903.4 808.7,909.4 813.4,912.4 818.1,919.2 822.8,923.3 827.5,924.6 832.2,926.7 836.8,926.5 841.5,931.9 846.2,938.8 850.9,945.6 855.6,947.0 860.3,952.6 864.9,956.8 869.6,960.2 874.3,960.7 879.0,965.3 883.7,971.0 888.4,976.2 893.0,980.9 897.7,983.6 902.4,989.7 907.1,995.3 911.8,999.0 916.5,1003.6 921.1,1008.4 925.8,1011.8 930.5,1014.1 935.2,1017.6 939.9,1024.9 944.6,1030.3 949.2,1033.2 953.9,1036.2 958.6,1040.3 963.3,1044.7 968.0,1048.4 972.7,1051.9 977.3,1058.6 982.0,1062.4 986.7,1063.9 991.4,1066.2 996.1,1069.8 1000.7,1074.9 1005.4,1079.3 1010.1,1081.8 1014.8,1084.9 1019.5,1088.4 1024.2,1091.5 1028.8,1097.4 1033.5,1102.5 1038.2,1108.2 1042.9,1110.8 1047.6,1113.2 1052.3,1117.8 1056.9,1120.6 1061.6,1122.1 1066.3,1125.0 1071.0,1129.1 1075.7,1132.9 1080.4,1135.8 1085.0,1139.5 1089.7,1143.1 1094.4,1145.7 1099.1,1148.2 1103.8,1150.8 1108.5,1154.0 1113.1,1157.4 1117.8,1159.8 1122.5,1162.5 1127.2,1165.2 1131.9,1167.2 1136.6,1170.1 1141.2,1174.2 1145.9,1177.4 1150.6,1180.5 1155.3,1182.4 1160.0,1184.6 1164.7,1187.3 1169.3,1189.5 1174.0,1190.7 1178.7,1192.6 1183.4,1195.2 1188.1,1197.1 1192.7,1199.9 1197.4,1203.2 1202.1,1205.2 1206.8,1208.4 1211.5,1210.7 1216.2,1212.6 1220.8,1215.1 1225.5,1217.1 1230.2,1219.6 1234.9,1221.7 1239.6,1223.9 1244.3,1225.5 1248.9,1226.6 1253.6,1227.6 1258.3,1228.3 1263.0,1229.8 1267.7,1231.2 1272.4,1233.1 1277.0,1234.6 1281.7,1236.5 1286.4,1238.1 1291.1,1239.3 1295.8,1240.5 1300.5,1241.7 1305.1,1243.0 1309.8,1244.3 1314.5,1244.9 1319.2,1246.0 1323.9,1247.8 1328.6,1248.4 1333.2,1248.8 1337.9,1249.5 1342.6,1250.1 1347.3,1251.5 1352.0,1252.4 1356.7,1253.2 1361.3,1254.5 1366.0,1255.9 1370.7,1256.1 1375.4,1257.0 1380.1,1258.2 1384.7,1259.1 1389.4,1260.0 1394.1,1260.9 1398.8,1262.1 1403.5,1263.0 1408.2,1263.6 1412.8,1264.5 1417.5,1265.1 1422.2,1265.3 1426.9,1265.6 1431.6,1266.0 1436.3,1266.2 1440.9,1266.1 1445.6,1266.1 1450.3,1266.3 1455.0,1266.5 1459.7,1267.0 1464.4,1267.6 1469.0,1267.7 1473.7,1268.2 1478.4,1269.0 1483.1,1269.5 1487.8,1269.7 1492.5,1270.3 1497.1,1270.7 1501.8,1270.8 1506.5,1271.1 1511.2,1271.6 1515.9,1272.2 1520.6,1272.6 1525.2,1272.9 1529.9,1273.0 1534.6,1273.4 1539.3,1273.8 1544.0,1274.3 1548.7,1274.5 1553.3,1275.0 1558.0,1275.6 1562.7,1276.0 1567.4,1276.3 1572.1,1276.6 1576.7,1276.8 1581.4,1277.1 1586.1,1277.5 1590.8,1277.8 1594.5,1277.8"/>
</g>
</g>
<g id="legend">
<rect x="1668.90" y="639.80" width="113.20" height="9.20" fill="#000000"/>
<text transform="translate(1793.50,657.90) scale(1.22,1)" font-size="40.5" font-weight="normal" text-anchor="start" >300 nm</text>
<rect x="1668.90" y="691.96" width="113.20" height="9.20" fill="#ff0000"/>
<text transform="translate(1793.50,710.06) scale(1.22,1)" font-size="40.5" font-weight="normal" text-anchor="start" >310 nm</text>
<rect x="1668.90" y="744.12" width="113.20" height="9.20" fill="#0000ff"/>
<text transform="translate(1793.50,762.22) scale(1.22,1)" font-size="40.5" font-weight="normal" text-anchor="start" >320 nm</text>
<rect x="1668.90" y="796.28" width="113.20" height="9.20" fill="#ff00ff"/>
<text transform="translate(1793.50,814.38) scale(1.22,1)" font-size="40.5" font-weight="normal" text-anchor="start" >330 nm</text>
<rect x="1668.90" y="848.44" width="113.20" height="9.20" fill="#008000"/>
<text transform="translate(1793.50,866.54) scale(1.22,1)" font-size="40.5" font-weight="normal" text-anchor="start" >340 nm</text>
<rect x="1668.90" y="900.60" width="113.20" height="9.20" fill="#000080"/>
<text transform="translate(1793.50,918.70) scale(1.22,1)" font-size="40.5" font-weight="normal" text-anchor="start" >350 nm</text>
<rect x="1668.90" y="952.76" width="113.20" height="9.20" fill="#8000ff"/>
<text transform="translate(1793.50,970.86) scale(1.22,1)" font-size="40.5" font-weight="normal" text-anchor="start" >360 nm</text>
<rect x="1668.90" y="1004.92" width="113.20" height="9.20" fill="#800080"/>
<text transform="translate(1793.50,1023.02) scale(1.22,1)" font-size="40.5" font-weight="normal" text-anchor="start" >370 nm</text>
<rect x="1668.90" y="1057.08" width="113.20" height="9.20" fill="#800000"/>
<text transform="translate(1793.50,1075.18) scale(1.22,1)" font-size="40.5" font-weight="normal" text-anchor="start" >380 nm</text>
<rect x="1668.90" y="1109.24" width="113.20" height="9.20" fill="#808000"/>
<text transform="translate(1793.50,1127.34) scale(1.22,1)" font-size="40.5" font-weight="normal" text-anchor="start" >390 nm</text>
<rect x="1668.90" y="1161.40" width="113.20" height="9.20" fill="#2b60a0"/>
<text transform="translate(1793.50,1179.50) scale(1.22,1)" font-size="40.5" font-weight="normal" text-anchor="start" >400 nm</text>
</g>
<g id="inset-axes">
<rect x="1056.10" y="36.80" width="5.00" height="367.90" fill="#000"/>
<rect x="1045.40" y="393.30" width="781.30" height="5.00" fill="#000"/>
<rect x="1810.90" y="36.80" width="5.00" height="361.50" fill="#000"/>
<rect x="1045.40" y="303.68" width="13.20" height="5.00" fill="#000"/>
<rect x="1045.40" y="214.05" width="13.20" height="5.00" fill="#000"/>
<rect x="1045.40" y="124.43" width="13.20" height="5.00" fill="#000"/>
<rect x="1045.40" y="34.80" width="13.20" height="5.00" fill="#000"/>
<rect x="1048.10" y="348.69" width="10.50" height="4.60" fill="#000"/>
<rect x="1048.10" y="259.06" width="10.50" height="4.60" fill="#000"/>
<rect x="1048.10" y="169.44" width="10.50" height="4.60" fill="#000"/>
<rect x="1048.10" y="79.81" width="10.50" height="4.60" fill="#000"/>
<rect x="1813.40" y="273.80" width="13.30" height="5.00" fill="#000"/>
<rect x="1813.40" y="154.30" width="13.30" height="5.00" fill="#000"/>
<rect x="1813.40" y="34.80" width="13.30" height="5.00" fill="#000"/>
<rect x="1813.40" y="333.75" width="10.60" height="4.60" fill="#000"/>
<rect x="1813.40" y="214.25" width="10.60" height="4.60" fill="#000"/>
<rect x="1813.40" y="94.75" width="10.60" height="4.60" fill="#000"/>
<rect x="1127.89" y="395.80" width="5.00" height="8.90" fill="#000"/>
<rect x="1199.68" y="395.80" width="5.00" height="8.90" fill="#000"/>
<rect x="1271.47" y="395.80" width="5.00" height="8.90" fill="#000"/>
<rect x="1343.26" y="395.80" width="5.00" height="8.90" fill="#000"/>
<rect x="1415.05" y="395.80" width="5.00" height="8.90" fill="#000"/>
<rect x="1486.84" y="395.80" width="5.00" height="8.90" fill="#000"/>
<rect x="1558.63" y="395.80" width="5.00" height="8.90" fill="#000"/>
<rect x="1630.42" y="395.80" width="5.00" height="8.90" fill="#000"/>
<rect x="1702.21" y="395.80" width="5.00" height="8.90" fill="#000"/>
<rect x="1774.00" y="395.80" width="5.00" height="8.90" fill="#000"/>
</g>
<g id="inset-labels">
<text transform="translate(1022.60,407.80) scale(1.06,1)" font-size="40" font-weight="bold" text-anchor="end" >440</text>
<text transform="translate(1022.60,318.18) scale(1.06,1)" font-size="40" font-weight="bold" text-anchor="end" >450</text>
<text transform="translate(1022.60,228.55) scale(1.06,1)" font-size="40" font-weight="bold" text-anchor="end" >460</text>
<text transform="translate(1022.60,138.93) scale(1.06,1)" font-size="40" font-weight="bold" text-anchor="end" >470</text>
<text transform="translate(1022.60,49.30) scale(1.06,1)" font-size="40" font-weight="bold" text-anchor="end" >480</text>
<text transform="translate(1850.00,407.80) scale(1.04,1)" font-size="40" font-weight="bold" text-anchor="start" >0</text>
<text transform="translate(1850.00,288.30) scale(1.04,1)" font-size="40" font-weight="bold" text-anchor="start" >45000</text>
<text transform="translate(1850.00,168.80) scale(1.04,1)" font-size="40" font-weight="bold" text-anchor="start" >90000</text>
<text transform="translate(1850.00,49.30) scale(1.04,1)" font-size="40" font-weight="bold" text-anchor="start" >135000</text>
<text transform="translate(1058.10,452.60) scale(1.06,1)" font-size="40" font-weight="bold" text-anchor="middle" >300</text>
<text transform="translate(1201.68,452.60) scale(1.06,1)" font-size="40" font-weight="bold" text-anchor="middle" >320</text>
<text transform="translate(1345.26,452.60) scale(1.06,1)" font-size="40" font-weight="bold" text-anchor="middle" >340</text>
<text transform="translate(1488.84,452.60) scale(1.06,1)" font-size="40" font-weight="bold" text-anchor="middle" >360</text>
<text transform="translate(1632.42,452.60) scale(1.06,1)" font-size="40" font-weight="bold" text-anchor="middle" >380</text>
<text transform="translate(1776.00,452.60) scale(1.06,1)" font-size="40" font-weight="bold" text-anchor="middle" >400</text>
<text transform="translate(1361.5,509.3)" font-weight="bold" font-size="38">λ<tspan font-size="28" dy="8">EX</tspan><tspan dy="-8"> (nm)</tspan></text>
<text transform="translate(941.5,288.3) rotate(-90) scale(0.965,1)" font-weight="bold" font-size="38">λ<tspan font-size="28" dy="8">EM</tspan><tspan dy="-8"> (nm)</tspan></text>
<text transform="translate(2007.80,266.30) rotate(-90) scale(1.04,1)" font-size="40" font-weight="bold" text-anchor="start" >Intensity</text>
</g>
<g id="inset-series">
<polyline points="1057.6,293.5 1129.4,263.3 1201.2,216.4 1273.0,164.5 1344.8,118.6 1416.5,81.5 1488.3,64.6 1560.1,79.5 1631.9,129.0 1703.7,195.1 1775.5,248.4" fill="none" stroke="#000" stroke-width="5" stroke-dasharray="20 15"/>
<polyline points="1057.6,313.2 1129.4,314.0 1201.2,314.0 1273.0,303.0 1344.8,303.0 1416.5,303.0 1488.3,303.0 1560.1,286.0 1631.9,234.2 1703.7,177.9 1775.5,72.0" fill="none" stroke="#000" stroke-width="5.4"/>
<rect x="1044.90" y="281.30" width="25.40" height="24.40" fill="#000"/>
<rect x="1116.69" y="251.10" width="25.40" height="24.40" fill="#000"/>
<rect x="1188.48" y="204.20" width="25.40" height="24.40" fill="#000"/>
<rect x="1260.27" y="152.30" width="25.40" height="24.40" fill="#000"/>
<rect x="1332.06" y="106.40" width="25.40" height="24.40" fill="#000"/>
<rect x="1403.85" y="69.30" width="25.40" height="24.40" fill="#000"/>
<rect x="1475.64" y="52.40" width="25.40" height="24.40" fill="#000"/>
<rect x="1547.43" y="67.30" width="25.40" height="24.40" fill="#000"/>
<rect x="1619.22" y="116.80" width="25.40" height="24.40" fill="#000"/>
<rect x="1691.01" y="182.90" width="25.40" height="24.40" fill="#000"/>
<rect x="1762.80" y="236.20" width="25.40" height="24.40" fill="#000"/>
<circle cx="1057.6" cy="313.2" r="12.4"/>
<circle cx="1129.4" cy="314.0" r="12.4"/>
<circle cx="1201.2" cy="314.0" r="12.4"/>
<circle cx="1273.0" cy="303.0" r="12.4"/>
<circle cx="1344.8" cy="303.0" r="12.4"/>
<circle cx="1416.5" cy="303.0" r="12.4"/>
<circle cx="1488.3" cy="303.0" r="12.4"/>
<circle cx="1560.1" cy="286.0" r="12.4"/>
<circle cx="1631.9" cy="234.2" r="12.4"/>
<circle cx="1703.7" cy="177.9" r="12.4"/>
<circle cx="1775.5" cy="72.0" r="12.4"/>
</g>
<g id="inset-legend">
<rect x="1074.00" y="570.20" width="93.40" height="4.80" fill="#000"/>
<circle cx="1120.6" cy="572.6" r="12.5"/>
<text transform="translate(1171.50,584.50) scale(1.03,1)" font-size="40" font-weight="normal" text-anchor="start" >Emission wavelength</text>
<rect x="1588.00" y="570.20" width="21.00" height="4.80" fill="#000"/>
<rect x="1618.80" y="560.00" width="28.60" height="25.10" fill="#000"/>
<rect x="1660.20" y="570.20" width="18.80" height="4.80" fill="#000"/>
<text transform="translate(1685.30,584.50) scale(1.025,1)" font-size="40" font-weight="normal" text-anchor="start" >Intensity</text>
</g>
</svg>
</body>
</html>
